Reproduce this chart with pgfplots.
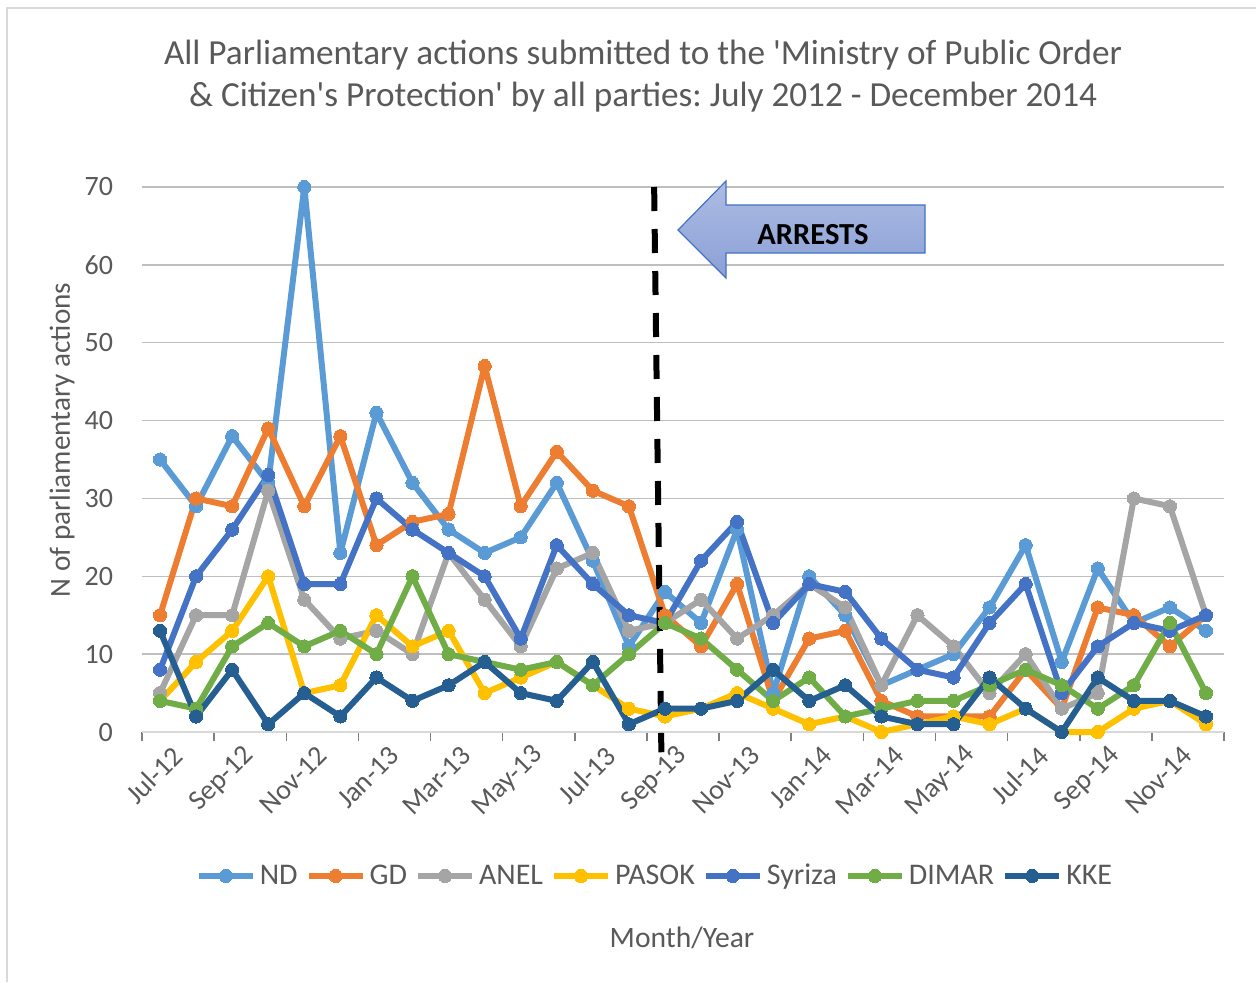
\documentclass[border=0pt]{standalone}
\usepackage{pgfplots}
\pgfplotsset{compat=1.18}
\usepackage{fontspec}
\setmainfont{Carlito}
\frenchspacing
\definecolor{txt}{HTML}{595959}
\definecolor{grid}{HTML}{D9D9D9}
\definecolor{cND}{HTML}{5B9BD5}
\definecolor{cGD}{HTML}{ED7D31}
\definecolor{cANEL}{HTML}{A5A5A5}
\definecolor{cPASOK}{HTML}{FFC000}
\definecolor{cSYR}{HTML}{4472C4}
\definecolor{cDIMAR}{HTML}{70AD47}
\definecolor{cKKE}{HTML}{255E91}
\definecolor{arrTop}{HTML}{AEBCE3}
\definecolor{arrBot}{HTML}{8AA0D6}
\begin{document}
\begin{tikzpicture}
\path[use as bounding box] (0,0) rectangle (628pt,491pt);
\begin{scope}[x=0.5pt,y=-0.5pt,shift={(0,491pt)}]
\draw[grid,line width=0.75pt] (7,982) -- (7,8) -- (1256,8);
\node[txt,align=center,font=\fontsize{17.6}{21}\selectfont] at (643,76) {All Parliamentary actions submitted to the \textquotesingle Ministry of Public Order\\ \& Citizen\textquotesingle s Protection\textquotesingle{} by all parties: July 2012 - December 2014};
\node[txt,rotate=90,font=\fontsize{14.6}{16}\selectfont] at (62,440) {N of parliamentary actions};
\node[txt,font=\fontsize{14.8}{16}\selectfont] at (682,938) {Month/Year};
\end{scope}
\begin{axis}[
  at={(71pt,125pt)}, anchor=south west,
  width=541pt, height=272.5pt, scale only axis,
  xmin=-0.5, xmax=29.5, ymin=0, ymax=70,
  axis x line*=bottom, axis y line*=left,
  x axis line style={grid,line width=0.75pt,-},
  y axis line style={draw=none},
  ytick={0,10,...,70},
  ymajorgrids, xmajorgrids=false,
  major grid style={grid,line width=0.75pt},
  xtick={0,2,...,28},
  xticklabels={Jul-12,Sep-12,Nov-12,Jan-13,Mar-13,May-13,Jul-13,Sep-13,Nov-13,Jan-14,Mar-14,May-14,Jul-14,Sep-14,Nov-14},
  minor xtick={-0.5,1.5,...,29.5},
  major tick length=0pt,
  ytick style={draw=none},
  every minor tick/.style={grid,line width=0.75pt},
  minor tick length=4.5pt,
  tick align=outside,
  xticklabel style={rotate=45,anchor=east,txt,font=\fontsize{14}{16}\selectfont,yshift=-13pt,xshift=3pt},
  yticklabel style={txt,font=\fontsize{14}{16}\selectfont,xshift=-11pt},
  /pgf/number format/assume math mode=true,
  clip=false,
  legend columns=7,
  legend style={at={(0.475,-0.264)},anchor=center,draw=none,fill=none,
    font=\fontsize{15}{17}\selectfont,text=txt,
    /tikz/every even column/.append style={column sep=2pt},
    inner sep=0pt},
  legend image code/.code={\draw[#1,mark=none] plot coordinates {(0pt,0pt) (27pt,0pt)};
     \draw[#1] plot coordinates {(13.5pt,0pt)};},
  every axis plot/.append style={line width=3pt, mark=*, mark size=3.3pt, line join=round},
]
\addplot[cND,mark options={fill=cND,draw=cND,line width=0pt}] coordinates {(0,35)(1,29)(2,38)(3,32)(4,70)(5,23)(6,41)(7,32)(8,26)(9,23)(10,25)(11,32)(12,22)(13,11)(14,18)(15,14)(16,26)(17,5)(18,20)(19,15)(20,6)(21,8)(22,10)(23,16)(24,24)(25,9)(26,21)(27,14)(28,16)(29,13)};
\addlegendentry{ND}
\addplot[cGD,mark options={fill=cGD,draw=cGD,line width=0pt}] coordinates {(0,15)(1,30)(2,29)(3,39)(4,29)(5,38)(6,24)(7,27)(8,28)(9,47)(10,29)(11,36)(12,31)(13,29)(14,15)(15,11)(16,19)(17,4)(18,12)(19,13)(20,4)(21,2)(22,2)(23,2)(24,8)(25,3)(26,16)(27,15)(28,11)(29,15)};
\addlegendentry{GD}
\addplot[cANEL,mark options={fill=cANEL,draw=cANEL,line width=0pt}] coordinates {(0,5)(1,15)(2,15)(3,31)(4,17)(5,12)(6,13)(7,10)(8,23)(9,17)(10,11)(11,21)(12,23)(13,13)(14,14)(15,17)(16,12)(17,15)(18,19)(19,16)(20,6)(21,15)(22,11)(23,5)(24,10)(25,3)(26,5)(27,30)(28,29)(29,15)};
\addlegendentry{ANEL}
\addplot[cPASOK,mark options={fill=cPASOK,draw=cPASOK,line width=0pt}] coordinates {(0,4)(1,9)(2,13)(3,20)(4,5)(5,6)(6,15)(7,11)(8,13)(9,5)(10,7)(11,9)(12,6)(13,3)(14,2)(15,3)(16,5)(17,3)(18,1)(19,2)(20,0)(21,1)(22,2)(23,1)(24,3)(25,0)(26,0)(27,3)(28,4)(29,1)};
\addlegendentry{PASOK}
\addplot[cSYR,mark options={fill=cSYR,draw=cSYR,line width=0pt}] coordinates {(0,8)(1,20)(2,26)(3,33)(4,19)(5,19)(6,30)(7,26)(8,23)(9,20)(10,12)(11,24)(12,19)(13,15)(14,14)(15,22)(16,27)(17,14)(18,19)(19,18)(20,12)(21,8)(22,7)(23,14)(24,19)(25,5)(26,11)(27,14)(28,13)(29,15)};
\addlegendentry{Syriza}
\addplot[cDIMAR,mark options={fill=cDIMAR,draw=cDIMAR,line width=0pt}] coordinates {(0,4)(1,3)(2,11)(3,14)(4,11)(5,13)(6,10)(7,20)(8,10)(9,9)(10,8)(11,9)(12,6)(13,10)(14,14)(15,12)(16,8)(17,4)(18,7)(19,2)(20,3)(21,4)(22,4)(23,6)(24,8)(25,6)(26,3)(27,6)(28,14)(29,5)};
\addlegendentry{DIMAR}
\addplot[cKKE,mark options={fill=cKKE,draw=cKKE,line width=0pt}] coordinates {(0,13)(1,2)(2,8)(3,1)(4,5)(5,2)(6,7)(7,4)(8,6)(9,9)(10,5)(11,4)(12,9)(13,1)(14,3)(15,3)(16,4)(17,8)(18,4)(19,6)(20,2)(21,1)(22,1)(23,7)(24,3)(25,0)(26,7)(27,4)(28,4)(29,2)};
\addlegendentry{KKE}
\draw[black,line width=3pt,dash pattern=on 12pt off 9pt] (axis cs:13.7,70) -- (axis cs:13.9,-2.6);
\end{axis}
\begin{scope}[x=0.5pt,y=-0.5pt,shift={(0,491pt)}]
\draw[cSYR,line width=0.6pt,top color=arrTop,bottom color=arrBot] (678,230) -- (726,181) -- (726,205) -- (925,205) -- (925,253) -- (726,253) -- (726,278) -- cycle;
\node[font=\fontsize{15.3}{17}\selectfont\bfseries,black] at (813,235) {ARRESTS};
\end{scope}
\end{tikzpicture}
\end{document}
